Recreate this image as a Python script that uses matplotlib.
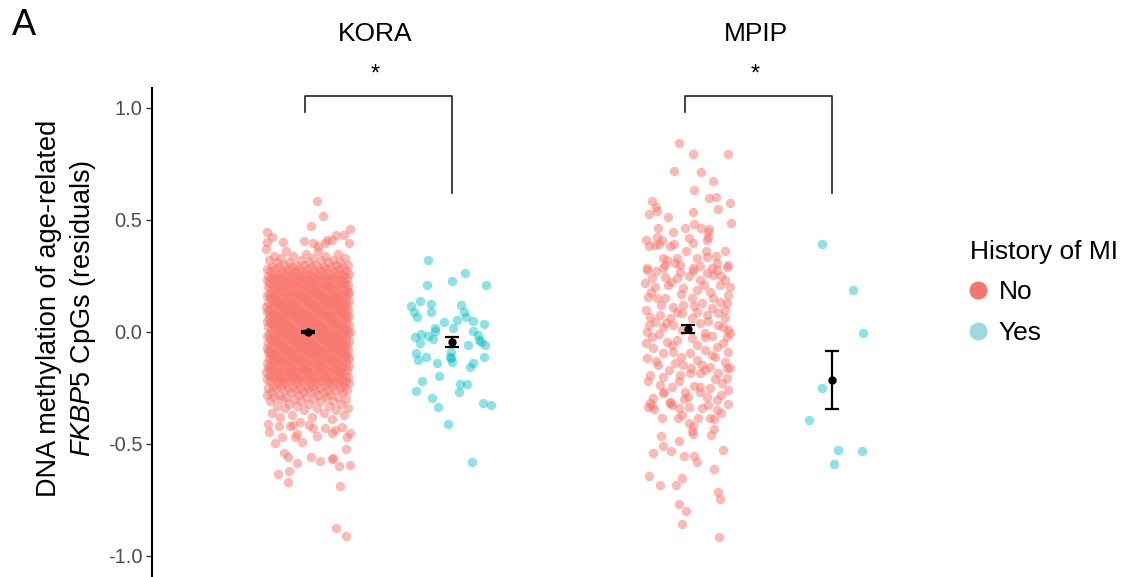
import numpy as np
import matplotlib.pyplot as plt
from matplotlib.lines import Line2D

plt.rcParams['font.family'] = ['Liberation Sans', 'DejaVu Sans']
plt.rcParams['mathtext.fontset'] = 'custom'
plt.rcParams['mathtext.it'] = 'Liberation Sans:italic'
plt.rcParams['mathtext.rm'] = 'Liberation Sans'

RED = '#F8766D'
CYAN = '#00BFC4'

# KORA, no MI: sparse points above / below the dense block (jitter offset, value)
kora_no_out_dx = [0.063, 0.106, 0.021, -0.285, -0.252, -0.287, -0.176, 0.292, 0.252, 0.287,
                  -0.026, 0.192, 0.165, 0.037, 0.072, 0.130, 0.118,
                  -0.269, -0.229, -0.183, -0.199, -0.125, -0.102, -0.090, -0.078, -0.044, 0.007,
                  0.037, 0.060, 0.118, 0.165, 0.188, 0.234, 0.269, 0.292,
                  -0.165, -0.137, -0.074, 0.021, 0.083, 0.165, 0.176, 0.215, 0.264, 0.292,
                  -0.206, -0.134, -0.141, 0.220, 0.194, 0.262]
kora_no_out_y = [0.585, 0.518, 0.475, 0.448, 0.423, 0.403, 0.403, 0.460, 0.433, 0.399,
                 0.408, 0.433, 0.411, 0.399, 0.384, 0.411, 0.396,
                 -0.445, -0.497, -0.467, -0.420, -0.420, -0.415, -0.467, -0.455, -0.490, -0.417,
                 -0.430, -0.463, -0.430, -0.452, -0.438, -0.423, -0.467, -0.452,
                 -0.539, -0.559, -0.583, -0.559, -0.576, -0.568, -0.564, -0.597, -0.522, -0.592,
                 -0.635, -0.622, -0.670, -0.689, -0.874, -0.909]

# KORA, no MI: dense block, value levels and estimated number of observations at each
kora_no_core_y = [0.37, 0.36, 0.35, 0.34, 0.33, 0.32, 0.31, 0.30, 0.29, 0.28,
                  0.27, 0.26, 0.25, 0.24, 0.23, 0.22, 0.21, 0.20, 0.19, 0.18,
                  0.17, 0.16, 0.15, 0.14, 0.13, 0.12, 0.11, 0.10, 0.09, 0.08,
                  0.07, 0.06, 0.05, 0.04, 0.03, 0.02, 0.01, 0.00, -0.01, -0.02,
                  -0.03, -0.04, -0.05, -0.06, -0.07, -0.08, -0.09, -0.10, -0.11, -0.12,
                  -0.13, -0.14, -0.15, -0.16, -0.17, -0.18, -0.19, -0.20, -0.21, -0.22,
                  -0.23, -0.24, -0.25, -0.26, -0.27, -0.28, -0.29, -0.30, -0.31, -0.32,
                  -0.33, -0.34, -0.35, -0.36, -0.37, -0.38, -0.39, -0.40, -0.41]
kora_no_core_n = [1, 2, 2, 3, 3, 4, 5, 6, 7, 8,
                  9, 10, 11, 12, 12, 12, 12, 12, 12, 12,
                  12, 13, 13, 13, 13, 13, 13, 13, 13, 13,
                  13, 13, 13, 13, 13, 13, 13, 13, 13, 13,
                  13, 13, 13, 13, 13, 13, 13, 13, 13, 12,
                  12, 12, 12, 12, 12, 12, 12, 12, 11, 10,
                  9, 8, 7, 6, 6, 5, 5, 4, 4, 3,
                  3, 3, 2, 2, 2, 2, 1, 1, 1]

# KORA, MI
kora_yes_dx = [-0.167, 0.090, 0.000, -0.174, 0.236, -0.222, -0.285, -0.146, -0.146, -0.264,
               -0.243, 0.063, 0.083, 0.097, 0.035, -0.056, 0.146, 0.222, -0.118, 0.007,
               -0.118, 0.146, 0.181, -0.257, -0.215, -0.167, -0.132, -0.222, 0.188, 0.201,
               0.111, 0.229, -0.250, -0.181, -0.007, -0.014, 0.222, -0.236, -0.104, -0.007,
               0.000, 0.146, 0.125, -0.208, -0.090, -0.250, 0.056, 0.104, 0.049, -0.139,
               -0.097, 0.215, 0.271, -0.028, 0.139]
kora_yes_y = [0.321, 0.263, 0.228, 0.210, 0.210, 0.138, 0.116, 0.125, 0.089, 0.089,
              0.067, 0.121, 0.089, 0.067, 0.054, 0.045, 0.049, 0.036, 0.018, 0.018,
              0.004, 0.004, -0.013, -0.022, -0.009, -0.018, -0.031, -0.049, -0.036, -0.045,
              -0.058, -0.058, -0.094, -0.112, -0.089, -0.112, -0.112, -0.125, -0.138, -0.116,
              -0.134, -0.138, -0.156, -0.219, -0.196, -0.263, -0.232, -0.232, -0.268, -0.295,
              -0.335, -0.317, -0.326, -0.411, -0.580]

# MPIP, no MI
mpip_no_dx = [-0.060, 0.033, 0.276, -0.095, 0.092, 0.176, 0.040, -0.250, -0.222, -0.213,
              -0.269, 0.146, 0.194, 0.208, 0.290, 0.033, -0.137, 0.297, -0.208, -0.102,
              -0.019, 0.040, 0.090, 0.146, 0.141, -0.292, -0.269, -0.217, -0.183, -0.229,
              -0.203, -0.125, -0.097, 0.007, 0.037, 0.130, 0.141, -0.014, 0.123, 0.257,
              -0.172, -0.148, -0.078, -0.090, 0.060, 0.134, 0.192, 0.203, 0.276, -0.287,
              -0.160, -0.056, 0.037, 0.083, 0.165,
              -0.287, -0.171, -0.056, 0.037, 0.130, 0.204, 0.273, -0.252, -0.160, -0.079, 0.083, 0.176, 0.257,
              -0.299, -0.229, -0.137, -0.032, 0.060, 0.153, 0.222, 0.280, -0.218, -0.275,
              -0.160, -0.102, -0.032, 0.025, 0.095, 0.164, 0.222, 0.269,
              -0.264, -0.194, -0.125, -0.044, 0.060, 0.130, 0.211, 0.257, -0.229,
              -0.171, -0.102, 0.083, 0.245, 0.280,
              -0.287, -0.252, -0.148, -0.079, 0.025, 0.118, 0.164, 0.269, 0.292,
              -0.241, -0.171, -0.102, 0.014, 0.118, 0.199, 0.164,
              -0.287, -0.206, -0.090, -0.032, 0.060, 0.095, 0.153, 0.257, 0.292,
              -0.264, -0.171, -0.056, 0.014, 0.083, 0.211, 0.269,
              -0.194, -0.113, -0.021, 0.083, 0.153, 0.234, 0.280,
              -0.241, -0.125, 0.002, 0.130, 0.199, -0.171,
              -0.22, 0.01, 0.23, -0.12, 0.11, 0.29, -0.26, -0.05, 0.17, -0.19,
              0.04, 0.26, -0.29, -0.08, 0.14, -0.15, 0.03, 0.21, -0.27, -0.04,
              0.12, -0.20, 0.24, -0.11, 0.06, -0.29, 0.28, -0.05, 0.19, -0.22,
              0.02, 0.12, -0.13, 0.27, -0.28, -0.06, 0.19, 0.04, -0.17, 0.23,
              -0.03, 0.08, -0.25, 0.10, 0.28,
              -0.280, -0.264, -0.236, -0.125, -0.113, -0.060, -0.044, -0.067, 0.007, 0.137,
              0.203, 0.227, -0.183, 0.072, 0.153, 0.183, 0.009, 0.037, 0.026, 0.033,
              0.183, 0.160, -0.190, -0.060, -0.172, -0.116, -0.243, -0.028, 0.044, 0.060,
              0.243, 0.183, -0.269, -0.194, -0.040, -0.081, 0.208, 0.222, -0.060, -0.012,
              -0.040, 0.215]
mpip_no_y = [0.842, 0.795, 0.795, 0.717, 0.713, 0.674, 0.635, 0.586, 0.557, 0.540,
             0.527, 0.600, 0.604, 0.550, 0.575, 0.537, 0.512, 0.488, 0.466, 0.448,
             0.466, 0.483, 0.466, 0.458, 0.446, 0.411, 0.384, 0.425, 0.411, 0.388,
             0.392, 0.384, 0.394, 0.418, 0.396, 0.411, 0.425, 0.363, 0.363, 0.363,
             0.329, 0.321, 0.329, 0.309, 0.329, 0.333, 0.341, 0.309, 0.299, 0.284,
             0.299, 0.299, 0.284, 0.295, 0.287,
             0.277, 0.284, 0.269, 0.272, 0.262, 0.277, 0.292, 0.240, 0.247, 0.240, 0.232, 0.254, 0.232,
             0.217, 0.202, 0.210, 0.195, 0.188, 0.180, 0.210, 0.165, 0.150, 0.158,
             0.150, 0.113, 0.121, 0.150, 0.128, 0.106, 0.135, 0.128,
             0.068, 0.076, 0.061, 0.083, 0.091, 0.076, 0.083, 0.061, 0.046,
             0.024, 0.031, 0.039, 0.024, 0.009,
             0.001, -0.021, -0.043, -0.036, -0.028, -0.021, -0.016, -0.021, -0.006,
             -0.073, -0.095, -0.088, -0.095, -0.080, -0.065, -0.103,
             -0.118, -0.147, -0.140, -0.147, -0.125, -0.147, -0.155, -0.132, -0.162,
             -0.192, -0.199, -0.192, -0.185, -0.185, -0.185, -0.207,
             -0.237, -0.244, -0.266, -0.244, -0.251, -0.229, -0.259,
             -0.296, -0.311, -0.289, -0.289, -0.304, -0.274,
             0.27, 0.25, 0.25, 0.225, 0.21, 0.20, 0.18, 0.17, 0.15, 0.12,
             0.115, 0.10, 0.10, 0.09, 0.05, 0.04, 0.06, 0.03, 0.03, 0.01,
             -0.005, -0.01, -0.05, -0.06, -0.06, -0.05, -0.09, -0.11, -0.11, -0.13,
             -0.16, -0.17, -0.17, -0.16, -0.22, -0.22, -0.21, -0.24, -0.27, -0.28,
             -0.30, -0.27, -0.33, -0.34, -0.32,
             -0.333, -0.318, -0.345, -0.318, -0.326, -0.341, -0.371, -0.385, -0.333, -0.326,
             -0.348, -0.360, -0.383, -0.383, -0.385, -0.388, -0.405, -0.420, -0.441, -0.455,
             -0.434, -0.460, -0.464, -0.485, -0.508, -0.531, -0.539, -0.554, -0.554, -0.579,
             -0.527, -0.613, -0.642, -0.683, -0.650, -0.684, -0.713, -0.746, -0.769, -0.798,
             -0.856, -0.917]

# MPIP, MI
mpip_yes_dx = [-0.069, 0.146, 0.215, -0.069, -0.160, 0.042, 0.208, 0.014]
mpip_yes_y = [0.393, 0.188, -0.004, -0.250, -0.393, -0.527, -0.531, -0.589]

# mean +/- SE per group (No, Yes)
kora_mean = [0.0, -0.045]
kora_se = [0.005, 0.022]
mpip_mean = [0.013, -0.213]
mpip_se = [0.018, 0.130]


def spread(n, width):
    # deterministic, evenly spread horizontal offsets for the dense block
    k = np.arange(n)
    return ((k * 0.6180339887) % 1.0 - 0.5) * 2 * width


W, H = 1124, 577
fig = plt.figure(figsize=(W / 100, H / 100), dpi=100)

ylim = (-1.094, 1.089)
ax1 = fig.add_axes([152 / W, 0, 446 / W, 489 / H])
ax2 = fig.add_axes([612 / W, 0, 308 / W, 489 / H])
ax1.set_xlim(-1.083, 2.014)
ax2.set_xlim(-0.528, 1.611)
for ax in (ax1, ax2):
    ax.set_ylim(*ylim)
    ax.patch.set_alpha(0)

pt = dict(s=46, linewidths=0)

# KORA
core_y = np.repeat(kora_no_core_y, kora_no_core_n)
ax1.scatter(spread(len(core_y), 0.29), core_y, color=RED, alpha=0.5, **pt)
ax1.scatter(np.array(kora_no_out_dx), kora_no_out_y, color=RED, alpha=0.5, **pt)
ax1.scatter(1 + np.array(kora_yes_dx), kora_yes_y, color=CYAN, alpha=0.45, **pt)
ax1.errorbar([0, 1], kora_mean, yerr=kora_se, fmt='o', color='black', ms=5,
             capsize=5, elinewidth=1.6, capthick=1.6, zorder=5)

# MPIP
ax2.scatter(np.array(mpip_no_dx), mpip_no_y, color=RED, alpha=0.5, **pt)
ax2.scatter(1 + np.array(mpip_yes_dx), mpip_yes_y, color=CYAN, alpha=0.45, **pt)
ax2.errorbar([0, 1], mpip_mean, yerr=mpip_se, fmt='o', color='black', ms=5,
             capsize=5, elinewidth=1.6, capthick=1.6, zorder=5)

# significance brackets and panel titles
for ax, title in ((ax1, 'KORA'), (ax2, 'MPIP')):
    ax.plot([-0.02, -0.02, 1.0, 1.0], [0.982, 1.054, 1.054, 0.62], color='#222222',
            lw=1.2, clip_on=False)
    ax.text(0.47, 1.15, '*', ha='center', va='center', fontsize=17, clip_on=False)
    ax.text(0.47, 1.33, title, ha='center', va='center', fontsize=19, clip_on=False)

# axis styling
for side in ('top', 'right', 'bottom'):
    ax1.spines[side].set_visible(False)
ax1.spines['left'].set_linewidth(1.5)
ax1.set_xticks([])
ax1.set_yticks([-1.0, -0.5, 0.0, 0.5, 1.0])
ax1.set_yticklabels(['-1.0', '-0.5', '0.0', '0.5', '1.0'])
ax1.tick_params(axis='y', length=4, width=1, color='#333333', labelcolor='#4D4D4D',
                labelsize=14.5, pad=3)
ax2.axis('off')

# y label (two lines, gene name in italics)
fig.text(49 / W, 1 - 308 / H, 'DNA methylation of age-related', rotation=90,
         ha='center', va='center', fontsize=19.5)
fig.text(83 / W, 1 - 308 / H, '$\\mathit{FKBP5}$ CpGs (residuals)', rotation=90,
         ha='center', va='center', fontsize=19.5)

fig.text(12 / W, 1 - 8 / H, 'A', ha='left', va='top', fontsize=26)

handles = [Line2D([], [], marker='o', ls='', ms=12, color='#F1766E'),
           Line2D([], [], marker='o', ls='', ms=12, color='#9ED9DF')]
fig.legend(handles, ['No', 'Yes'], title='History of MI', loc='upper left',
           bbox_to_anchor=(946 / W, 1 - 216 / H), frameon=False, fontsize=19,
           title_fontsize=19, handletextpad=0.5, labelspacing=0.63, alignment='left',
           handlelength=0.6)

fig.savefig('out.png', dpi=100)
